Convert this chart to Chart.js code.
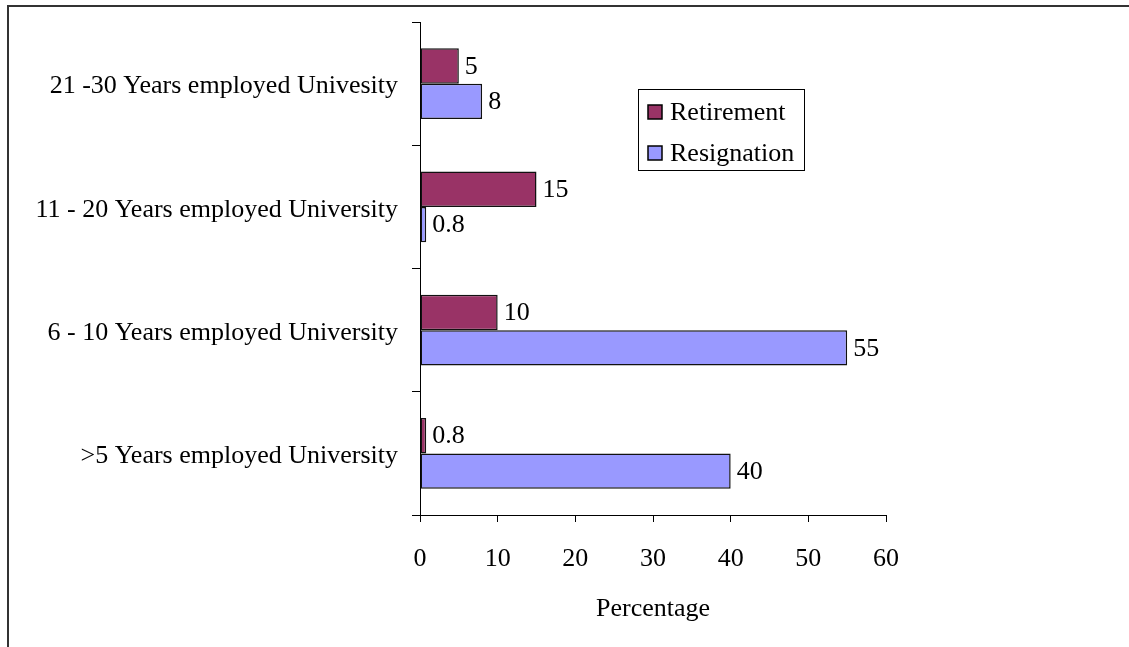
<!DOCTYPE html>
<html>
<head>
<meta charset="utf-8">
<script src="https://cdn.jsdelivr.net/npm/chart.js@4"></script>
<style>
  body { margin: 0; background: #fff; }
  #wrap { position: relative; width: 1129px; height: 647px; overflow: hidden; }
  #frame { position: absolute; left: 7px; top: 5px; width: 1200px; height: 700px;
           border-top: 2px solid #333; border-left: 2px solid #333; }
  canvas { position: absolute; left: 0; top: 0; }
</style>
</head>
<body>
<div id="wrap">
  <div id="frame"></div>
  <canvas id="myChart" width="1129" height="647"></canvas>
</div>
<script>
const categories = [
    '21 -30 Years employed Univesity',
    '11 - 20 Years employed University',
    '6 - 10 Years employed University',
    '>5 Years employed University'
];
const retirement = [5, 15, 10, 0.8];
const resignation = [8, 0.8, 55, 40];
const xTicks = [0, 10, 20, 30, 40, 50, 60];

const FONT = 'Liberation Serif';
const SIZE = 26;

// value printed just right of each bar
const barValues = {
    id: 'barValues',
    afterDatasetsDraw(chart) {
        const ctx = chart.ctx;
        ctx.save();
        ctx.font = SIZE + 'px "' + FONT + '"';
        ctx.fillStyle = '#000';
        ctx.textBaseline = 'middle';
        ctx.textAlign = 'left';
        chart.data.datasets.forEach((ds, i) => {
            chart.getDatasetMeta(i).data.forEach((bar, j) => {
                ctx.fillText(String(ds.data[j]), bar.x + 6, bar.y + 1);
            });
        });
        ctx.restore();
    }
};

// boxed legend sitting inside the plot
const boxLegend = {
    id: 'boxLegend',
    afterDraw(chart) {
        const ctx = chart.ctx;
        const a = chart.chartArea;
        const x = a.left + 218, y = a.top + 67, w = 166, h = 81;
        ctx.save();
        ctx.strokeStyle = '#000';
        ctx.lineWidth = 1;
        ctx.strokeRect(x + 0.5, y + 0.5, w, h);
        ctx.font = SIZE + 'px "' + FONT + '"';
        ctx.textBaseline = 'middle';
        chart.data.datasets.forEach((ds, i) => {
            const cy = y + 23 + i * 41;
            ctx.fillStyle = ds.backgroundColor;
            ctx.fillRect(x + 10, cy - 7, 14, 14);
            ctx.strokeStyle = '#000';
            ctx.lineWidth = 1.5;
            ctx.strokeRect(x + 10, cy - 7, 14, 14);
            ctx.fillStyle = '#000';
            ctx.fillText(ds.label, x + 32, cy + 1);
        });
        ctx.restore();
    }
};

const ctx = document.getElementById('myChart').getContext('2d');
const myChart = new Chart(ctx, {
    type: 'bar',
    data: {
        labels: categories,
        datasets: [{
            label: 'Retirement',
            data: retirement,
            backgroundColor: '#993366',
            borderColor: '#111',
            borderWidth: 1.5,
            borderSkipped: false
        }, {
            label: 'Resignation',
            data: resignation,
            backgroundColor: '#9999FF',
            borderColor: '#111',
            borderWidth: 1.5,
            borderSkipped: false
        }]
    },
    options: {
        indexAxis: 'y',
        responsive: false,
        animation: false,
        layout: { padding: { left: 0, top: 22, right: 243, bottom: 0 } },
        datasets: { bar: { categoryPercentage: 0.576, barPercentage: 1.0 } },
        plugins: {
            legend: { display: false },
            tooltip: { enabled: false }
        },
        scales: {
            x: {
                min: 0,
                max: 60,
                afterBuildTicks: (scale) => { scale.ticks = xTicks.map(v => ({ value: v })); },
                afterFit: (scale) => { scale.height = 132; },
                grid: { drawOnChartArea: false, tickLength: 7, color: '#000', lineWidth: 1 },
                border: { color: '#000', width: 1 },
                ticks: { color: '#000', padding: 22, font: { family: FONT, size: SIZE } },
                title: {
                    display: true,
                    text: 'Percentage',
                    color: '#000',
                    font: { family: FONT, size: SIZE },
                    padding: { top: 0, bottom: 22 }
                }
            },
            y: {
                afterFit: (scale) => {
                    scale.width = 420;
                    scale.paddingTop = 0;
                    scale.paddingBottom = 0;
                },
                grid: { offset: true, drawOnChartArea: false, tickLength: 8, color: '#000', lineWidth: 1 },
                border: { color: '#000', width: 1 },
                ticks: { color: '#000', padding: 14, labelOffset: 3, font: { family: FONT, size: SIZE } }
            }
        }
    },
    plugins: [barValues, boxLegend]
});
</script>
</body>
</html>
